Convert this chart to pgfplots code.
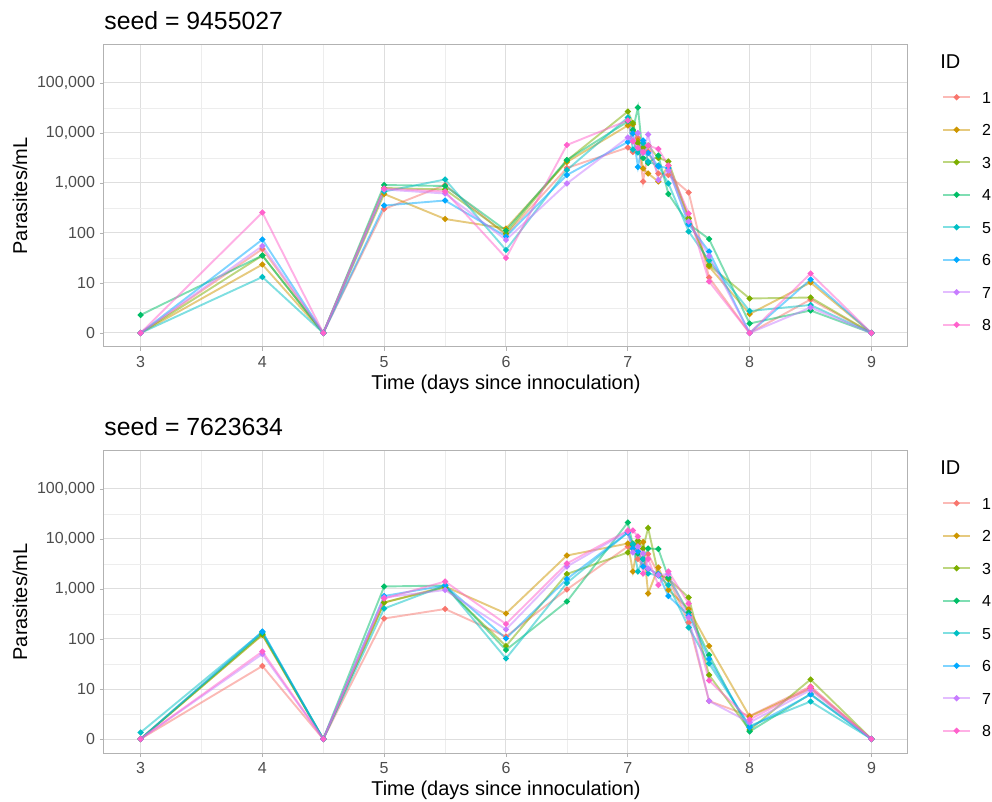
\documentclass[border=0pt]{standalone}
\usepackage{fontspec}
\setmainfont{Liberation Sans}
\usepackage{pgfplots}
\usepackage{pgfplotstable}
\pgfplotsset{compat=1.18}

\definecolor{c1}{HTML}{F8766D}
\definecolor{c2}{HTML}{CD9600}
\definecolor{c3}{HTML}{7CAE00}
\definecolor{c4}{HTML}{00BE67}
\definecolor{c5}{HTML}{00BFC4}
\definecolor{c6}{HTML}{00A9FF}
\definecolor{c7}{HTML}{C77CFF}
\definecolor{c8}{HTML}{FF61CC}
\definecolor{tickgrey}{HTML}{4D4D4D}

% y values are log10(parasites/mL + 1)
\pgfplotstableread{
t id1 id2 id3 id4 id5 id6 id7 id8
3 0 0 0 0.36 0 0 0 0
4 1.68 1.37 1.55 1.55 1.12 1.87 1.74 2.41
4.5 0 0 0 0 0 0 0 0
5 2.48 2.78 2.90 2.96 2.83 2.55 2.87 2.89
5.5 2.96 2.28 2.87 2.94 3.07 2.65 2.79 2.83
6 1.96 2.09 1.99 2.05 1.66 1.93 1.86 1.50
6.5 3.30 3.42 3.45 3.46 3.26 3.16 2.99 3.76
7 3.71 4.15 4.43 4.23 4.31 3.82 3.91 4.25
7.0417 3.62 4.17 4.20 4.06 3.67 3.99 3.85 3.83
7.0833 3.90 3.85 3.80 4.51 3.61 3.32 4.00 3.70
7.125 3.03 3.29 3.71 3.50 3.80 3.85 3.60 3.62
7.1667 3.63 3.19 3.75 3.40 3.43 3.60 3.97 3.75
7.25 3.19 3.03 3.50 3.55 3.35 3.33 3.06 3.68
7.3333 3.16 3.35 3.43 2.78 2.99 3.30 3.25 3.35
7.5 2.81 2.30 2.29 2.18 2.03 2.17 2.23 2.39
7.6667 1.11 1.33 1.36 1.88 1.45 1.63 1.54 1.03
8 0 0.38 0.69 0.19 0.44 0 0 0
8.5 0.67 1.01 0.71 0.45 0.56 1.07 0.51 1.19
9 0 0 0 0 0 0 0 0
}\seedA

\pgfplotstableread{
t id1 id2 id3 id4 id5 id6 id7 id8
3 0 0 0 0 0.13 0 0 0
4 1.46 2.08 2.09 2.12 2.14 2.15 1.70 1.75
4.5 0 0 0 0 0 0 0 0
5 2.41 2.73 2.73 3.05 2.61 2.86 2.83 2.81
5.5 2.60 3.05 3.03 3.07 3.07 3.07 2.98 3.15
6 2.05 2.51 1.86 1.78 1.61 2.01 2.19 2.30
6.5 2.99 3.67 3.30 2.75 3.12 3.20 3.45 3.51
7 3.85 3.91 3.73 4.33 4.13 4.13 4.15 4.17
7.0417 3.80 3.35 3.91 3.88 3.90 3.81 3.73 4.17
7.0833 3.60 3.90 3.97 3.71 3.35 3.75 3.85 4.05
7.125 3.45 3.94 3.81 3.60 3.60 3.45 3.71 3.31
7.1667 3.70 2.91 4.22 3.81 3.31 3.40 3.41 3.60
7.25 3.30 3.43 3.30 3.80 3.27 3.30 3.28 3.08
7.3333 3.20 2.98 3.20 3.23 3.08 2.86 3.30 3.35
7.5 2.33 2.60 2.83 2.53 2.23 2.47 2.43 2.71
7.6667 0.76 1.86 1.28 1.68 1.51 1.60 0.76 1.17
8 0.46 0.45 0.18 0.15 0.26 0.23 0.33 0.39
8.5 1.05 1.01 1.19 0.90 0.75 0.89 0.98 1.03
9 0 0 0 0 0 0 0 0
}\seedB

\pgfplotsset{
  panel/.style={
    scale only axis,
    width=402pt, height=151pt,
    xmin=2.7, xmax=9.3,
    ymin=-0.28, ymax=5.76,
    xtick={3,...,9},
    ytick={0,...,5},
    yticklabels={0,10,100,{1,000},{10,000},{100,000}},
    xtick pos=bottom, ytick pos=left,
    minor tick num=1,
    minor tick length=0pt,
    tick align=outside,
    major tick length=2pt,
    tick style={color=black!30, line width=0.4pt},
    axis line style={color=black!30, line width=0.5pt},
    grid=both,
    major grid style={color=black!13, line width=0.5pt},
    minor grid style={color=black!7, line width=0.3pt},
    /pgf/number format/assume math mode=true,
    tick label style={font=\fontsize{8}{9.6}\selectfont, text=tickgrey},
    xticklabel style={yshift=0.75pt},
    yticklabel style={xshift=1pt},
    xlabel={Time (days since innoculation)},
    ylabel={Parasites/mL},
    label style={font=\fontsize{10}{12}\selectfont},
    xlabel style={at={(axis description cs:0.5,-0.1225)}, anchor=center},
    ylabel style={at={(axis description cs:-0.1045,0.5)}, anchor=center, rotate=0},
    every axis title shift=0pt,
    title style={at={(axis description cs:0,1)}, anchor=south west, inner sep=0pt, yshift=7.5pt, font=\fontsize{12.4}{14}\selectfont},
    every axis plot/.append style={line width=0.95pt, draw opacity=0.5, mark=*, mark size=0.95pt, mark options={draw opacity=1, fill opacity=1}},
    legend image code/.code={\draw[mark repeat=2,mark phase=2,#1] plot coordinates {(0pt,0pt) (6.75pt,0pt) (13.5pt,0pt)};},
    legend style={at={(rel axis cs:1.042,0.848)}, anchor=north west, draw=none, fill=none, inner sep=0pt,
      font=\fontsize{8}{9.6}\selectfont, row sep=10.25pt,
      nodes={inner sep=0pt, text height=6pt, text depth=0pt},
      /tikz/every odd column/.append style={column sep=5.5pt}},
    legend cell align=left,
  }
}

\begin{document}
\begin{tikzpicture}
\useasboundingbox (0,0) rectangle (496pt,-401pt);

\begin{axis}[panel, at={(52pt,-22.5pt)}, anchor=north west, title={seed = 9455027}]
\addplot[c1] table[x=t,y=id1] {\seedA};
\addplot[c2] table[x=t,y=id2] {\seedA};
\addplot[c3] table[x=t,y=id3] {\seedA};
\addplot[c4] table[x=t,y=id4] {\seedA};
\addplot[c5] table[x=t,y=id5] {\seedA};
\addplot[c6] table[x=t,y=id6] {\seedA};
\addplot[c7] table[x=t,y=id7] {\seedA};
\addplot[c8] table[x=t,y=id8] {\seedA};
\legend{1,2,3,4,5,6,7,8}
\end{axis}
\node[anchor=west, font=\fontsize{10}{12}\selectfont, inner sep=0pt] at (470pt,-31pt) {ID};

\begin{axis}[panel, at={(52pt,-225.5pt)}, anchor=north west, title={seed = 7623634}]
\addplot[c1] table[x=t,y=id1] {\seedB};
\addplot[c2] table[x=t,y=id2] {\seedB};
\addplot[c3] table[x=t,y=id3] {\seedB};
\addplot[c4] table[x=t,y=id4] {\seedB};
\addplot[c5] table[x=t,y=id5] {\seedB};
\addplot[c6] table[x=t,y=id6] {\seedB};
\addplot[c7] table[x=t,y=id7] {\seedB};
\addplot[c8] table[x=t,y=id8] {\seedB};
\legend{1,2,3,4,5,6,7,8}
\end{axis}
\node[anchor=west, font=\fontsize{10}{12}\selectfont, inner sep=0pt] at (470pt,-234pt) {ID};
\end{tikzpicture}
\end{document}
